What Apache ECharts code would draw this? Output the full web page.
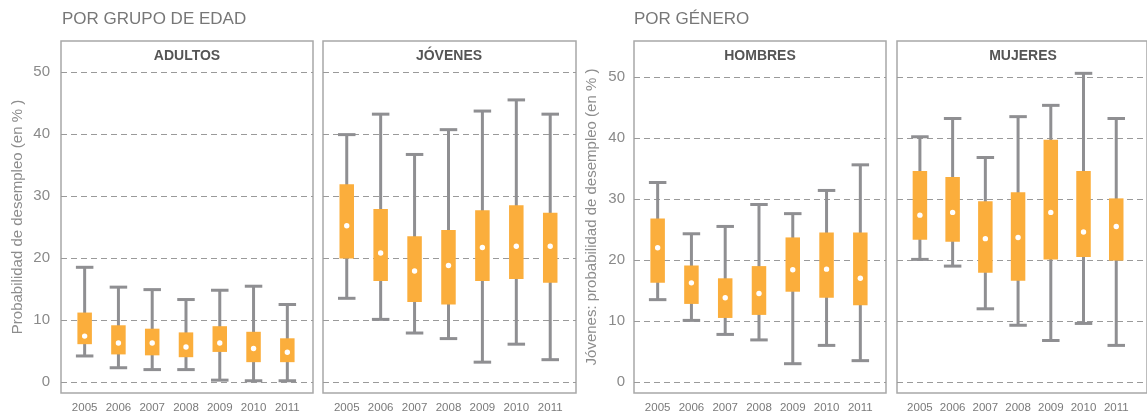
<!DOCTYPE html>
<html>
<head>
<meta charset="utf-8">
<script src="https://cdn.jsdelivr.net/npm/echarts@6/dist/echarts.min.js"></script>
<style>
html,body{margin:0;padding:0;background:#fff;}
#chart{width:1147px;height:415px;}
</style>
</head>
<body>
<div id="chart"></div>
<script>
// ---- data ----
const years = ['2005','2006','2007','2008','2009','2010','2011'];
const yTicks = [0, 10, 20, 30, 40, 50];
// rows: [min, q1, median, q3, max]
const adultos = [
  [4.2, 6.1, 7.4, 11.2, 18.5],
  [2.3, 4.45, 6.3, 9.15, 15.3],
  [2.0, 4.3, 6.3, 8.6, 14.9],
  [2.0, 4.0, 5.65, 8.0, 13.3],
  [0.3, 4.85, 6.3, 9.0, 14.8],
  [0.2, 3.2, 5.4, 8.1, 15.45],
  [0.2, 3.2, 4.8, 7.05, 12.5]
];
const jovenes = [
  [13.5, 19.9, 25.2, 31.9, 39.9],
  [10.1, 16.3, 20.8, 27.9, 43.2],
  [7.9, 12.9, 17.9, 23.5, 36.7],
  [7.0, 12.5, 18.8, 24.5, 40.7],
  [3.2, 16.3, 21.7, 27.7, 43.7],
  [6.1, 16.6, 21.9, 28.5, 45.5],
  [3.6, 16.0, 21.9, 27.3, 43.2]
];
const hombres = [
  [13.5, 16.25, 22.0, 26.8, 32.7],
  [10.1, 12.8, 16.25, 19.1, 24.3],
  [7.8, 10.5, 13.8, 17.0, 25.5],
  [6.9, 11.0, 14.5, 19.0, 29.1],
  [3.0, 14.8, 18.4, 23.7, 27.6],
  [6.0, 13.8, 18.5, 24.5, 31.4],
  [3.5, 12.6, 17.0, 24.5, 35.6]
];
const mujeres = [
  [20.1, 23.3, 27.35, 34.6, 40.2],
  [19.0, 23.0, 27.8, 33.6, 43.2],
  [12.0, 17.9, 23.5, 29.65, 36.8],
  [9.3, 16.6, 23.7, 31.1, 43.5],
  [6.8, 20.1, 27.8, 39.7, 45.35],
  [9.6, 20.5, 24.6, 34.6, 50.6],
  [6.0, 19.9, 25.5, 30.1, 43.2]
];
const panelTitles = ['ADULTOS', 'JÓVENES', 'HOMBRES', 'MUJERES'];
const groupTitles = ['POR GRUPO DE EDAD', 'POR GÉNERO'];
const yNames = ['Probabilidad de desempleo (en % )', 'Jóvenes: probabilidad de desempleo (en % )'];

// ---- layout ----
const ORANGE = '#FBAE3C';
const WGRAY = '#8F8F92';
const FONT = '"Liberation Sans", Arial, sans-serif';
const panels = [
  {data: adultos, left: 61, width: 252, xmax: 6.76, ymin: -1.774, ymax: 55.0, labels: true, lm: 11},
  {data: jovenes, left: 323, width: 253, xmax: 6.76, ymin: -1.774, ymax: 55.0, labels: false},
  {data: hombres, left: 634, width: 252, xmax: 6.76, ymin: -1.803, ymax: 55.9, labels: true, lm: 9},
  {data: mujeres, left: 897, width: 258, xmax: 6.94, ymin: -1.803, ymax: 55.9, labels: false}
];

const grids = [], xAxes = [], yAxes = [], series = [], graphics = [];
panels.forEach((p, k) => {
  grids.push({left: p.left, top: 41, width: p.width, height: 352, show: true,
    borderColor: '#A8A8A8', borderWidth: 1.5, backgroundColor: 'transparent', containLabel: false});
  xAxes.push({type: 'value', gridIndex: k, min: -0.7, max: p.xmax,
    axisLine: {show: false}, axisTick: {show: false}, splitLine: {show: false},
    axisLabel: {show: true, customValues: [0,1,2,3,4,5,6], margin: 9,
      formatter: v => years[Math.round(v)] || '', color: '#7a7a7a', fontSize: 11.5, fontFamily: FONT}
  });
  yAxes.push({type: 'value', gridIndex: k, min: p.ymin, max: p.ymax,
    axisLine: {show: false},
    axisTick: {show: false, customValues: yTicks},
    splitLine: {show: true, lineStyle: {color: '#9A9A9A', type: [6, 4], width: 1.2}},
    axisLabel: {show: p.labels, customValues: yTicks, margin: p.lm || 8, color: '#8A8A8A',
      fontSize: 15, fontFamily: FONT, padding: [0, 0, 8, 0]}
  });
  series.push({
    type: 'custom', xAxisIndex: k, yAxisIndex: k,
    data: p.data.map((r, i) => [i].concat(r)),
    encode: {x: 0, y: [1, 2, 3, 4, 5]},
    renderItem: function (params, api) {
      const x = api.value(0);
      const lo = api.coord([x, api.value(1)]);
      const q1 = api.coord([x, api.value(2)]);
      const md = api.coord([x, api.value(3)]);
      const q3 = api.coord([x, api.value(4)]);
      const hi = api.coord([x, api.value(5)]);
      const cx = lo[0], capW = 17.5, boxW = 14.5;
      const ls = {stroke: WGRAY, lineWidth: 3};
      return {type: 'group', children: [
        {type: 'line', shape: {x1: cx, y1: lo[1], x2: cx, y2: hi[1]}, style: ls},
        {type: 'line', shape: {x1: cx - capW/2, y1: lo[1], x2: cx + capW/2, y2: lo[1]}, style: ls},
        {type: 'line', shape: {x1: cx - capW/2, y1: hi[1], x2: cx + capW/2, y2: hi[1]}, style: ls},
        {type: 'rect', shape: {x: cx - boxW/2, y: q3[1], width: boxW, height: q1[1] - q3[1]}, style: {fill: ORANGE}},
        {type: 'circle', shape: {cx: cx, cy: md[1], r: 2.7}, style: {fill: '#ffffff'}}
      ]};
    }
  });
  graphics.push({type: 'text', x: p.left + 126, y: 56,
    style: {text: panelTitles[k], align: 'center', verticalAlign: 'middle',
      font: 'bold 14px ' + FONT, fill: '#555555'}});
});

graphics.push({type: 'text', x: 62, y: 19,
  style: {text: groupTitles[0], align: 'left', verticalAlign: 'middle', font: '17px ' + FONT, fill: '#777777'}});
graphics.push({type: 'text', x: 634, y: 19,
  style: {text: groupTitles[1], align: 'left', verticalAlign: 'middle', font: '17px ' + FONT, fill: '#777777'}});
graphics.push({type: 'text', x: 18, y: 217, rotation: Math.PI/2,
  style: {text: yNames[0], align: 'center', verticalAlign: 'middle', font: '15px ' + FONT, fill: '#8D8D8D'}});
graphics.push({type: 'text', x: 592, y: 217, rotation: Math.PI/2,
  style: {text: yNames[1], align: 'center', verticalAlign: 'middle', font: '15px ' + FONT, fill: '#8D8D8D'}});

const chart = echarts.init(document.getElementById('chart'), null, {renderer: 'canvas'});
chart.setOption({
  animation: false,
  backgroundColor: '#ffffff',
  grid: grids,
  xAxis: xAxes,
  yAxis: yAxes,
  series: series,
  graphic: graphics
});
</script>
</body>
</html>
